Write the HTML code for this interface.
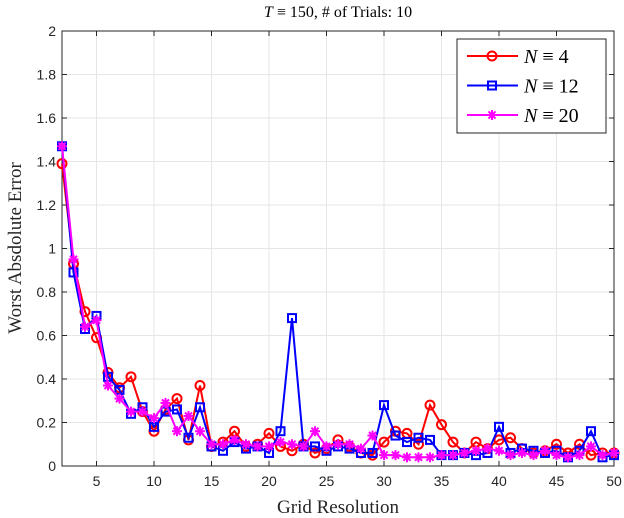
<!DOCTYPE html>
<html><head><meta charset="utf-8"><style>
body{margin:0;background:#fff}
svg{display:block;font-family:"Liberation Serif",serif}
</style></head><body>
<svg id="chart" width="624" height="518" xmlns="http://www.w3.org/2000/svg"></svg>
<script>
const xs=[];for(let i=2;i<=50;i++)xs.push(i);
const n4=[1.39,0.93,0.71,0.59,0.43,0.36,0.41,0.25,0.16,0.26,0.31,0.12,0.37,0.09,0.11,0.16,0.09,0.10,0.15,0.09,0.07,0.10,0.06,0.08,0.12,0.09,0.06,0.05,0.11,0.16,0.15,0.10,0.28,0.19,0.11,0.06,0.11,0.08,0.12,0.13,0.08,0.06,0.07,0.10,0.06,0.10,0.05,0.06,0.06];
const n12=[1.47,0.89,0.63,0.69,0.41,0.35,0.24,0.27,0.18,0.25,0.26,0.13,0.27,0.09,0.07,0.11,0.08,0.09,0.06,0.16,0.68,0.09,0.09,0.07,0.09,0.08,0.06,0.06,0.28,0.14,0.11,0.13,0.12,0.05,0.05,0.06,0.05,0.06,0.18,0.06,0.08,0.07,0.06,0.07,0.04,0.07,0.16,0.04,0.05];
const n20=[1.47,0.95,0.64,0.67,0.37,0.31,0.25,0.25,0.22,0.29,0.16,0.23,0.16,0.10,0.10,0.12,0.10,0.09,0.09,0.11,0.10,0.09,0.16,0.09,0.10,0.10,0.08,0.14,0.05,0.05,0.04,0.04,0.04,0.05,0.05,0.06,0.07,0.08,0.07,0.05,0.06,0.05,0.07,0.05,0.04,0.05,0.09,0.05,0.06];
const xTicks=[5,10,15,20,25,30,35,40,45,50];
const yTicks=[0,0.2,0.4,0.6,0.8,1,1.2,1.4,1.6,1.8,2];
const L=62,R=614,T=31,B=466;
const X=v=>L+(v-2)/(50-2)*(R-L);
const Y=v=>B-v/2*(B-T);
const svg=document.getElementById('chart');
const NS='http://www.w3.org/2000/svg';
function mk(t,a,p){const e=document.createElementNS(NS,t);for(const k in a)e.setAttribute(k,a[k]);(p||svg).appendChild(e);return e;}
// grid
xTicks.forEach(v=>{const l=mk('line',{x1:X(v),x2:X(v),y1:T,y2:B,stroke:'#e6e6e6','stroke-width':1});

});
yTicks.forEach(v=>{const l=mk('line',{x1:L,x2:R,y1:Y(v),y2:Y(v),stroke:'#e6e6e6','stroke-width':1});

});
// axes box
const box=mk('rect',{x:L,y:T,width:R-L,height:B-T,fill:'none',stroke:'#262626','stroke-width':1});


xTicks.forEach(v=>{mk('line',{x1:X(v),x2:X(v),y1:B,y2:B-5,stroke:'#262626'});mk('line',{x1:X(v),x2:X(v),y1:T,y2:T+5,stroke:'#262626'});
const t=mk('text',{x:X(v),y:B+20,'text-anchor':'middle','font-size':14,fill:'#262626','font-family':'Liberation Sans, sans-serif'});t.textContent=v;

});
yTicks.forEach(v=>{mk('line',{x1:L,x2:L+5,y1:Y(v),y2:Y(v),stroke:'#262626'});mk('line',{x1:R,x2:R-5,y1:Y(v),y2:Y(v),stroke:'#262626'});
const t=mk('text',{x:L-6,y:Y(v)+5,'text-anchor':'end','font-size':14,fill:'#262626','font-family':'Liberation Sans, sans-serif'});t.textContent=v;

});
function marker(type,x,y,c,g){
 if(type==='o')mk('circle',{cx:x,cy:y,r:4.5,fill:'none',stroke:c,'stroke-width':2},g);
 else if(type==='s')mk('rect',{x:x-4,y:y-4,width:8,height:8,fill:'none',stroke:c,'stroke-width':2},g);
 else{for(const a of [0,45,90,135]){const r=a*Math.PI/180;mk('line',{x1:x-5*Math.cos(r),y1:y-5*Math.sin(r),x2:x+5*Math.cos(r),y2:y+5*Math.sin(r),stroke:c,'stroke-width':2},g);}}
}
function series(vals,c,type,name){
 const g=mk('g',{});
 
 
 mk('polyline',{points:vals.map((v,i)=>X(xs[i])+','+Y(v)).join(' '),fill:'none',stroke:c,'stroke-width':2},g);
 vals.forEach((v,i)=>marker(type,X(xs[i]),Y(v),c,g));
}
series(n4,'#ff0000','o','series-n4');
series(n12,'#0000ff','s','series-n12');
series(n20,'#ff00ff','*','series-n20');
// labels
const tt=mk('text',{x:338,y:17,'text-anchor':'middle','font-size':16,fill:'#000'});
tt.innerHTML='<tspan font-style="italic">T</tspan> ≡ 150, # of Trials: 10';


const xl=mk('text',{x:338,y:513,'text-anchor':'middle','font-size':19,fill:'#262626'});xl.textContent='Grid Resolution';


const yl=mk('text',{x:0,y:0,'text-anchor':'middle','font-size':19,fill:'#262626',transform:'translate(21,248) rotate(-90)'});yl.textContent='Worst Absdolute Error';


// legend
const lg=mk('g',{});


mk('rect',{x:457,y:39,width:149,height:94,fill:'#fff',stroke:'#262626','stroke-width':1},lg);
[['#ff0000','o','4'],['#0000ff','s','12'],['#ff00ff','*','20']].forEach((e,i)=>{
 const y=56+i*29.5;
 const eg=mk('g',{},lg);
 
 
 mk('line',{x1:467,x2:518,y1:y,y2:y,stroke:e[0],'stroke-width':2},eg);
 marker(e[1],492,y,e[0],eg);
 const t=mk('text',{x:524,y:y+7,'font-size':20,fill:'#000'},eg);
 t.innerHTML='<tspan font-style="italic">N</tspan> ≡ '+e[2];
});
</script>
</body></html>
